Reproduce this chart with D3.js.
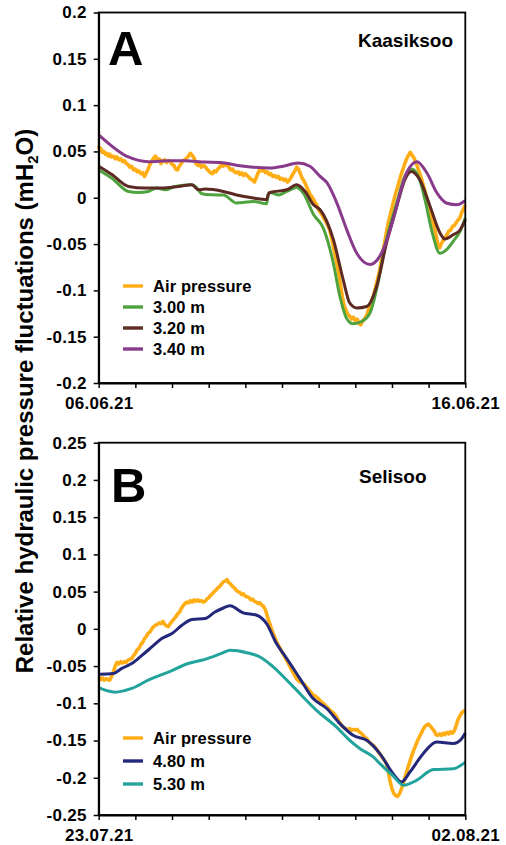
<!DOCTYPE html>
<html>
<head>
<meta charset="utf-8">
<script src="https://cdn.jsdelivr.net/npm/d3@7"></script>
<style>
  body { margin: 0; background: #fff; }
  text { font-family: "Liberation Sans", Arial, sans-serif; font-weight: bold; fill: #000; }
</style>
</head>
<body>
<svg id="chart" width="506" height="845"></svg>
<script>
// ---- Data: [day offset from panel start, pressure fluctuation in mH2O] ----

// Panel A – Kaasiksoo, 06.06.21 – 16.06.21
const kaasAir = [[0,0.056],[0.03,0.051],[0.06,0.053],[0.1,0.049],[0.14,0.050],[0.18,0.047],[0.22,0.048],[0.26,0.045],[0.3,0.047],[0.35,0.044],[0.4,0.045],[0.45,0.042],[0.5,0.044],[0.55,0.041],[0.6,0.042],[0.65,0.039],[0.7,0.040],[0.75,0.037],[0.8,0.036],[0.85,0.033],[0.9,0.034],[0.95,0.030],[1.0,0.031],[1.05,0.028],[1.1,0.029],[1.15,0.026],[1.2,0.027],[1.25,0.023],[1.3,0.027],[1.35,0.031],[1.4,0.036],[1.45,0.040],[1.5,0.043],[1.55,0.045],[1.6,0.040],[1.65,0.042],[1.7,0.037],[1.75,0.040],[1.8,0.041],[1.85,0.038],[1.9,0.040],[1.95,0.039],[2.0,0.036],[2.05,0.035],[2.1,0.031],[2.15,0.030],[2.2,0.034],[2.25,0.037],[2.3,0.040],[2.35,0.041],[2.4,0.043],[2.45,0.045],[2.5,0.048],[2.55,0.046],[2.6,0.043],[2.65,0.037],[2.7,0.035],[2.75,0.036],[2.8,0.033],[2.85,0.035],[2.9,0.034],[2.95,0.031],[3.0,0.029],[3.05,0.027],[3.1,0.026],[3.15,0.029],[3.2,0.028],[3.25,0.031],[3.3,0.033],[3.35,0.036],[3.4,0.034],[3.45,0.036],[3.5,0.035],[3.55,0.033],[3.6,0.030],[3.65,0.031],[3.7,0.028],[3.75,0.027],[3.8,0.028],[3.85,0.025],[3.9,0.027],[3.95,0.024],[4.0,0.026],[4.05,0.024],[4.1,0.022],[4.15,0.020],[4.2,0.019],[4.25,0.017],[4.3,0.022],[4.35,0.027],[4.4,0.031],[4.45,0.029],[4.5,0.030],[4.55,0.027],[4.6,0.028],[4.65,0.025],[4.7,0.026],[4.75,0.023],[4.8,0.024],[4.85,0.022],[4.9,0.023],[4.95,0.020],[5.0,0.021],[5.05,0.019],[5.1,0.020],[5.15,0.017],[5.2,0.019],[5.25,0.022],[5.3,0.026],[5.35,0.029],[5.4,0.033],[5.45,0.031],[5.5,0.026],[5.55,0.021],[5.6,0.018],[5.65,0.014],[5.7,0.009],[5.75,0.005],[5.8,0.002],[5.85,-0.001],[5.9,-0.005],[5.95,-0.008],[6.0,-0.013],[6.05,-0.016],[6.1,-0.019],[6.15,-0.023],[6.2,-0.026],[6.25,-0.030],[6.3,-0.035],[6.35,-0.043],[6.4,-0.052],[6.45,-0.062],[6.5,-0.072],[6.55,-0.083],[6.6,-0.095],[6.65,-0.108],[6.7,-0.117],[6.75,-0.122],[6.8,-0.126],[6.85,-0.128],[6.9,-0.131],[6.95,-0.129],[7.0,-0.133],[7.05,-0.131],[7.1,-0.136],[7.15,-0.137],[7.2,-0.133],[7.25,-0.131],[7.3,-0.128],[7.35,-0.122],[7.4,-0.117],[7.45,-0.111],[7.5,-0.105],[7.55,-0.097],[7.6,-0.089],[7.65,-0.081],[7.7,-0.070],[7.75,-0.059],[7.8,-0.048],[7.85,-0.037],[7.9,-0.027],[7.95,-0.019],[8.0,-0.011],[8.05,-0.003],[8.1,0.005],[8.15,0.011],[8.2,0.018],[8.25,0.025],[8.3,0.031],[8.35,0.037],[8.4,0.042],[8.45,0.046],[8.5,0.049],[8.55,0.046],[8.6,0.043],[8.65,0.038],[8.7,0.033],[8.75,0.027],[8.8,0.021],[8.85,0.014],[8.9,0.007],[8.95,0.000],[9.0,-0.008],[9.05,-0.016],[9.1,-0.024],[9.15,-0.031],[9.2,-0.040],[9.25,-0.050],[9.3,-0.054],[9.35,-0.049],[9.4,-0.046],[9.45,-0.043],[9.5,-0.040],[9.55,-0.036],[9.6,-0.035],[9.65,-0.031],[9.7,-0.030],[9.75,-0.027],[9.8,-0.024],[9.85,-0.022],[9.9,-0.016],[9.95,-0.012],[10.0,-0.008]];

const kaas300 = [[0,0.030],[0.36,0.021],[0.81,0.0068],[1.08,0.0057],[1.35,0.0068],[1.58,0.0105],[1.81,0.0086],[2.08,0.0122],[2.54,0.014],[2.68,0.0105],[2.81,0.0043],[3.08,0.0032],[3.4,0.003],[3.76,-0.0057],[4.22,-0.004],[4.58,-0.0065],[4.63,0.004],[4.67,0.0057],[4.9,0.003],[5.13,0.0068],[5.4,0.011],[5.58,0.005],[5.86,-0.018],[6.13,-0.033],[6.4,-0.0705],[6.58,-0.1066],[6.76,-0.13],[6.94,-0.136],[7.17,-0.1336],[7.4,-0.1245],[7.58,-0.099],[7.85,-0.045],[8.13,-0.0057],[8.35,0.023],[8.53,0.031],[8.72,0.023],[8.9,-0.002],[9.08,-0.0346],[9.31,-0.060],[9.49,-0.056],[9.67,-0.047],[9.86,-0.036],[10,-0.022]];

const kaas320 = [[0,0.034],[0.36,0.025],[0.81,0.0122],[1.26,0.0105],[1.72,0.0105],[2.17,0.0122],[2.54,0.014],[2.72,0.0086],[2.9,0.0094],[3.4,0.0068],[3.76,0.003],[4.22,-0.0003],[4.58,-0.002],[4.63,0.004],[4.67,0.0057],[5.13,0.0086],[5.4,0.014],[5.63,0.0068],[5.86,-0.0076],[6.04,-0.013],[6.4,-0.045],[6.67,-0.0886],[6.85,-0.1138],[7.04,-0.119],[7.31,-0.1174],[7.58,-0.0958],[7.85,-0.049],[8.13,-0.0094],[8.35,0.0194],[8.53,0.0284],[8.76,0.0194],[9.04,-0.0094],[9.31,-0.038],[9.44,-0.0446],[9.67,-0.040],[9.86,-0.0346],[10,-0.024]];

const kaas340 = [[0,0.068],[0.81,0.044],[1.35,0.039],[1.94,0.040],[2.35,0.040],[2.9,0.0385],[3.31,0.038],[3.85,0.0345],[4.67,0.032],[5.03,0.034],[5.44,0.0375],[5.76,0.034],[6.04,0.023],[6.23,0.016],[6.5,-0.006],[6.77,-0.035],[7.04,-0.060],[7.4,-0.072],[7.67,-0.063],[8.03,-0.024],[8.22,0.005],[8.4,0.027],[8.68,0.039],[8.95,0.027],[9.23,0.005],[9.5,-0.006],[9.77,-0.0076],[10,-0.003]];

// Panel B – Selisoo, 23.07.21 – 02.08.21
const seliAir = [[0,-0.065],[0.05,-0.068],[0.1,-0.066],[0.15,-0.069],[0.2,-0.067],[0.25,-0.068],[0.3,-0.069],[0.35,-0.064],[0.4,-0.058],[0.45,-0.050],[0.5,-0.045],[0.55,-0.047],[0.6,-0.044],[0.65,-0.046],[0.7,-0.044],[0.75,-0.045],[0.8,-0.042],[0.85,-0.041],[0.9,-0.040],[0.95,-0.036],[1.0,-0.033],[1.05,-0.028],[1.1,-0.026],[1.15,-0.021],[1.2,-0.018],[1.25,-0.013],[1.3,-0.010],[1.35,-0.006],[1.4,-0.004],[1.45,0.000],[1.5,0.003],[1.55,0.005],[1.6,0.006],[1.65,0.008],[1.7,0.007],[1.75,0.010],[1.8,0.006],[1.85,0.004],[1.9,0.003],[1.95,0.007],[2.0,0.010],[2.05,0.013],[2.1,0.016],[2.15,0.020],[2.2,0.022],[2.25,0.027],[2.3,0.031],[2.35,0.034],[2.4,0.036],[2.45,0.035],[2.5,0.038],[2.55,0.036],[2.6,0.039],[2.65,0.037],[2.7,0.039],[2.75,0.037],[2.8,0.038],[2.85,0.036],[2.9,0.037],[2.95,0.040],[3.0,0.042],[3.05,0.045],[3.1,0.047],[3.15,0.050],[3.2,0.052],[3.25,0.055],[3.3,0.057],[3.35,0.060],[3.4,0.063],[3.45,0.064],[3.5,0.066],[3.55,0.062],[3.6,0.060],[3.65,0.057],[3.7,0.055],[3.75,0.052],[3.8,0.050],[3.85,0.049],[3.9,0.046],[3.95,0.047],[4.0,0.044],[4.05,0.043],[4.1,0.042],[4.15,0.039],[4.2,0.040],[4.25,0.037],[4.3,0.036],[4.35,0.034],[4.4,0.035],[4.45,0.032],[4.5,0.030],[4.55,0.025],[4.6,0.017],[4.65,0.009],[4.7,0.002],[4.75,-0.005],[4.8,-0.011],[4.85,-0.017],[4.9,-0.022],[4.95,-0.026],[5.0,-0.031],[5.05,-0.035],[5.1,-0.040],[5.15,-0.044],[5.2,-0.049],[5.25,-0.054],[5.3,-0.058],[5.35,-0.063],[5.4,-0.067],[5.45,-0.070],[5.5,-0.071],[5.55,-0.073],[5.6,-0.074],[5.65,-0.077],[5.7,-0.080],[5.75,-0.083],[5.8,-0.086],[5.85,-0.089],[5.9,-0.090],[5.95,-0.092],[6.0,-0.094],[6.05,-0.097],[6.1,-0.099],[6.15,-0.101],[6.2,-0.104],[6.25,-0.106],[6.3,-0.109],[6.35,-0.111],[6.4,-0.113],[6.45,-0.116],[6.5,-0.119],[6.55,-0.124],[6.6,-0.128],[6.65,-0.131],[6.7,-0.133],[6.75,-0.134],[6.8,-0.135],[6.85,-0.134],[6.9,-0.136],[6.95,-0.135],[7.0,-0.136],[7.05,-0.135],[7.1,-0.138],[7.15,-0.140],[7.2,-0.142],[7.25,-0.145],[7.3,-0.147],[7.35,-0.150],[7.4,-0.153],[7.45,-0.155],[7.5,-0.157],[7.55,-0.160],[7.6,-0.163],[7.65,-0.167],[7.7,-0.170],[7.75,-0.174],[7.8,-0.177],[7.85,-0.181],[7.9,-0.192],[7.95,-0.205],[8.0,-0.215],[8.05,-0.221],[8.1,-0.224],[8.15,-0.225],[8.2,-0.222],[8.25,-0.216],[8.3,-0.209],[8.35,-0.200],[8.4,-0.192],[8.45,-0.184],[8.5,-0.176],[8.55,-0.169],[8.6,-0.162],[8.65,-0.156],[8.7,-0.150],[8.75,-0.145],[8.8,-0.140],[8.85,-0.135],[8.9,-0.131],[8.95,-0.129],[9.0,-0.128],[9.05,-0.131],[9.1,-0.134],[9.15,-0.137],[9.2,-0.142],[9.25,-0.143],[9.3,-0.141],[9.35,-0.143],[9.4,-0.140],[9.45,-0.142],[9.5,-0.139],[9.55,-0.141],[9.6,-0.138],[9.65,-0.140],[9.7,-0.137],[9.75,-0.130],[9.8,-0.122],[9.85,-0.117],[9.9,-0.113],[9.95,-0.111],[10.0,-0.109]];

const seli480 = [[0,-0.061],[0.4,-0.060],[0.63,-0.053],[0.9,-0.0466],[1.18,-0.0355],[1.45,-0.0243],[1.72,-0.013],[2.0,-0.0063],[2.27,0.0048],[2.54,0.0125],[2.9,0.0138],[3.17,0.0227],[3.4,0.028],[3.58,0.031],[3.94,0.0214],[4.31,0.0183],[4.58,0.007],[4.85,-0.0198],[5.13,-0.040],[5.49,-0.0668],[5.85,-0.0937],[6.22,-0.107],[6.58,-0.1273],[6.94,-0.143],[7.31,-0.1497],[7.67,-0.1676],[8.03,-0.1945],[8.26,-0.2058],[8.49,-0.1923],[8.85,-0.1676],[9.22,-0.152],[9.67,-0.154],[9.9,-0.1475],[10,-0.14]];

const seli530 = [[0,-0.079],[0.44,-0.085],[0.9,-0.080],[1.35,-0.069],[1.9,-0.058],[2.44,-0.0466],[2.9,-0.041],[3.4,-0.032],[3.58,-0.0288],[4.04,-0.032],[4.4,-0.0378],[4.76,-0.051],[5.31,-0.078],[5.94,-0.1094],[6.49,-0.132],[6.81,-0.148],[7.13,-0.161],[7.49,-0.172],[7.67,-0.181],[8.03,-0.1975],[8.31,-0.210],[8.67,-0.2035],[9.13,-0.189],[9.67,-0.188],[10,-0.179]];

// Axis ticks (mH2O)
const ticksA = [-0.2, -0.15, -0.1, -0.05, 0, 0.05, 0.1, 0.15, 0.2];
const ticksB = [-0.25, -0.2, -0.15, -0.1, -0.05, 0, 0.05, 0.1, 0.15, 0.2, 0.25];

// Series names and colours
const namesA = ["Air pressure", "3.00 m", "3.20 m", "3.40 m"];
const colorsA = ["#FFAD14", "#4FA33F", "#5C2A22", "#883A8B"];
const namesB = ["Air pressure", "4.80 m", "5.30 m"];
const colorsB = ["#FFAD14", "#23287A", "#22A39C"];

// ---- Drawing ----
const svg = d3.select("#chart");
const DAY = 86400000;

const panels = [
  { letter: "A", site: "Kaasiksoo", start: Date.UTC(2021, 5, 6), end: Date.UTC(2021, 5, 16),
    ydom: [-0.2, 0.2], yr: [383, 12.5], ticks: ticksA,
    series: [kaasAir, kaas300, kaas320, kaas340], names: namesA, colors: colorsA,
    letterPos: [108, 65], sitePos: [453, 47], siteAnchor: "end",
    legendY: [286, 307, 328, 349] },
  { letter: "B", site: "Selisoo", start: Date.UTC(2021, 6, 23), end: Date.UTC(2021, 7, 2),
    ydom: [-0.25, 0.25], yr: [815, 442.7], ticks: ticksB,
    series: [seliAir, seli480, seli530], names: namesB, colors: colorsB,
    letterPos: [111, 502], sitePos: [359, 483], siteAnchor: "start",
    legendY: [738, 761, 784] }
];

const fmtDate = d3.utcFormat("%d.%m.%y");
const fmtTick = v => String(+v.toFixed(2));

panels.forEach(p => {
  const x = d3.scaleUtc().domain([new Date(p.start), new Date(p.end)]).range([98.7, 465.3]);
  const y = d3.scaleLinear().domain(p.ydom).range(p.yr);
  const g = svg.append("g");

  const line = d3.line()
    .x(d => x(new Date(p.start + d[0] * DAY)))
    .y(d => y(d[1]));

  // series lines (air pressure drawn first, piezometers above it)
  p.series.forEach((s, i) => {
    g.append("path")
      .datum(s)
      .attr("fill", "none")
      .attr("stroke", p.colors[i])
      .attr("stroke-width", i === 0 ? 3.6 : 3)
      .attr("stroke-linejoin", "round")
      .attr("d", line.curve(i === 0 ? d3.curveLinear : d3.curveMonotoneX));
  });

  // frame
  g.append("rect")
    .attr("x", x.range()[0]).attr("y", y.range()[1])
    .attr("width", x.range()[1] - x.range()[0])
    .attr("height", y.range()[0] - y.range()[1])
    .attr("fill", "none").attr("stroke", "#000").attr("stroke-width", 1.8);

  // y axis
  const yAxis = d3.axisLeft(y).tickValues(p.ticks).tickFormat(fmtTick)
    .tickSize(5).tickSizeOuter(0).tickPadding(7);
  const ya = g.append("g").attr("transform", `translate(${x.range()[0]},0)`).call(yAxis);

  // x axis: a tick every day, dates only at both ends
  const days = d3.utcDay.range(new Date(p.start), new Date(p.end + 1));
  const xAxis = d3.axisBottom(x).tickValues(days)
    .tickFormat((d, i) => (i === 0 || i === days.length - 1) ? fmtDate(d) : "")
    .tickSize(5).tickSizeOuter(0).tickPadding(9);
  const xa = g.append("g").attr("transform", `translate(0,${y.range()[0]})`).call(xAxis);

  [ya, xa].forEach(a => {
    a.select(".domain").attr("stroke-width", 1.8);
    a.selectAll(".tick line").attr("stroke-width", 1.5);
    a.selectAll(".tick text")
      .style("font-family", '"Liberation Sans", Arial, sans-serif')
      .style("font-weight", "bold")
      .style("font-size", "17px")
      .style("letter-spacing", "0.3px")
      .attr("fill", "#000");
  });

  // panel letter and site name
  g.append("text").attr("x", p.letterPos[0]).attr("y", p.letterPos[1])
    .style("font-size", "49px").text(p.letter);
  g.append("text").attr("x", p.sitePos[0]).attr("y", p.sitePos[1])
    .attr("text-anchor", p.siteAnchor)
    .style("font-size", "19px").text(p.site);

  // legend
  p.names.forEach((n, i) => {
    const ly = p.legendY[i];
    g.append("line").attr("x1", 123).attr("x2", 143).attr("y1", ly).attr("y2", ly)
      .attr("stroke", p.colors[i]).attr("stroke-width", 3.4);
    g.append("text").attr("x", 153).attr("y", ly).attr("dy", "0.36em")
      .style("font-size", "16.5px").style("letter-spacing", "0.1px").text(n);
  });
});

// shared y-axis title
const title = svg.append("text")
  .attr("transform", "translate(33,401) rotate(-90)")
  .attr("text-anchor", "middle")
  .style("font-size", "24px");
title.append("tspan").text("Relative hydraulic pressure fluctuations (mH");
title.append("tspan").attr("dy", 5).style("font-size", "15px").text("2");
title.append("tspan").attr("dy", -5).text("O)");
</script>
</body>
</html>
